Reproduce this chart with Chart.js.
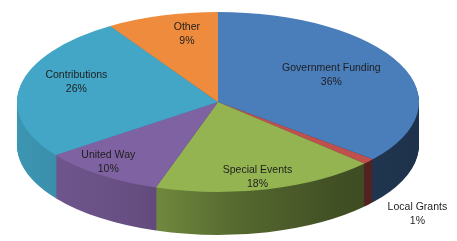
<!DOCTYPE html>
<html>
<head>
<meta charset="utf-8">
<script src="https://cdn.jsdelivr.net/npm/chart.js@4/dist/chart.umd.min.js"></script>
<style>
html,body{margin:0;padding:0;background:#fff;}
#wrap{width:457px;height:241px;}
</style>
</head>
<body>
<div id="wrap"><canvas id="c" width="457" height="241"></canvas></div>
<script>
// ---- data ----
const categories = ['Government Funding', 'Local Grants', 'Special Events', 'United Way', 'Contributions', 'Other'];
const values = [36, 1, 18, 10, 26, 9];
const percentLabels = ['36%', '1%', '18%', '10%', '26%', '9%'];

// ---- styles ----
const topColors  = ['#4a7ebb', '#c0504d', '#93b451', '#7f62a1', '#43a6c6', '#ef8b3c'];
const labelRadius = [0.64, 1.59, 0.86, 0.86, 0.74, 0.77];
const labelShiftDeg = [-3, 10, 1.2, 3.4, 7, 4.6];
const sideShade = [[0, 0.9], [0.3, 0.8], [0.55, 0.58], [0.8, 0.44], [1, 0.4]];

const VIEW = { cx: 218, cy: 102, rx: 201, ry: 90, depth: 43 };

function shade(hex, f) {
  const n = parseInt(hex.slice(1), 16);
  const r = Math.round(((n >> 16) & 255) * f), g = Math.round(((n >> 8) & 255) * f), b = Math.round((n & 255) * f);
  return 'rgb(' + r + ',' + g + ',' + b + ')';
}

function applyTopTransform(ctx, el, dy) {
  const s = el.outerRadius;
  ctx.translate(VIEW.cx, VIEW.cy + dy);
  ctx.scale(VIEW.rx / s, VIEW.ry / s);
  ctx.translate(-el.x, -el.y);
}

const pie3d = {
  id: 'pie3d',
  beforeDatasetsDraw(chart) {
    const ctx = chart.ctx;
    const meta = chart.getDatasetMeta(0);
    const ref = meta.data[0];
    const s = ref.outerRadius;
    const grads = topColors.map(c => {
      const g = ctx.createLinearGradient(ref.x - s, 0, ref.x + s, 0);
      sideShade.forEach(([p, f]) => g.addColorStop(p, shade(c, f)));
      return g;
    });
    // side walls: stacked layers of the library's own arcs
    for (let k = VIEW.depth; k >= 1; k--) {
      ctx.save();
      applyTopTransform(ctx, ref, k);
      meta.data.forEach((el, i) => {
        const o = el.options;
        el.options = Object.assign({}, o, { backgroundColor: grads[i], borderWidth: 0 });
        el.draw(ctx, chart.chartArea);
        el.options = o;
      });
      ctx.restore();
    }
    ctx.save();
    applyTopTransform(ctx, ref, 0);
  },
  afterDatasetsDraw(chart) {
    chart.ctx.restore();
  },
  afterDraw(chart) {
    const ctx = chart.ctx;
    const meta = chart.getDatasetMeta(0);
    ctx.save();
    ctx.font = '10.5px "Liberation Sans", Arial, sans-serif';
    ctx.fillStyle = '#1e1e1e';
    ctx.textAlign = 'center';
    ctx.textBaseline = 'middle';
    meta.data.forEach((el, i) => {
      const a = (el.startAngle + el.endAngle) / 2 + labelShiftDeg[i] * Math.PI / 180;
      const f = labelRadius[i];
      const x = VIEW.cx + VIEW.rx * f * Math.cos(a);
      const y = VIEW.cy + VIEW.ry * f * Math.sin(a);
      ctx.fillText(categories[i], x, y - 7);
      ctx.fillText(percentLabels[i], x, y + 7);
    });
    ctx.restore();
  }
};

new Chart(document.getElementById('c'), {
  type: 'pie',
  data: {
    labels: categories,
    datasets: [{
      data: values,
      backgroundColor: topColors,
      borderWidth: 0,
      clip: false
    }]
  },
  options: {
    responsive: false,
    animation: false,
    layout: { padding: 0 },
    plugins: { legend: { display: false }, tooltip: { enabled: false } }
  },
  plugins: [pie3d]
});
</script>
</body>
</html>
